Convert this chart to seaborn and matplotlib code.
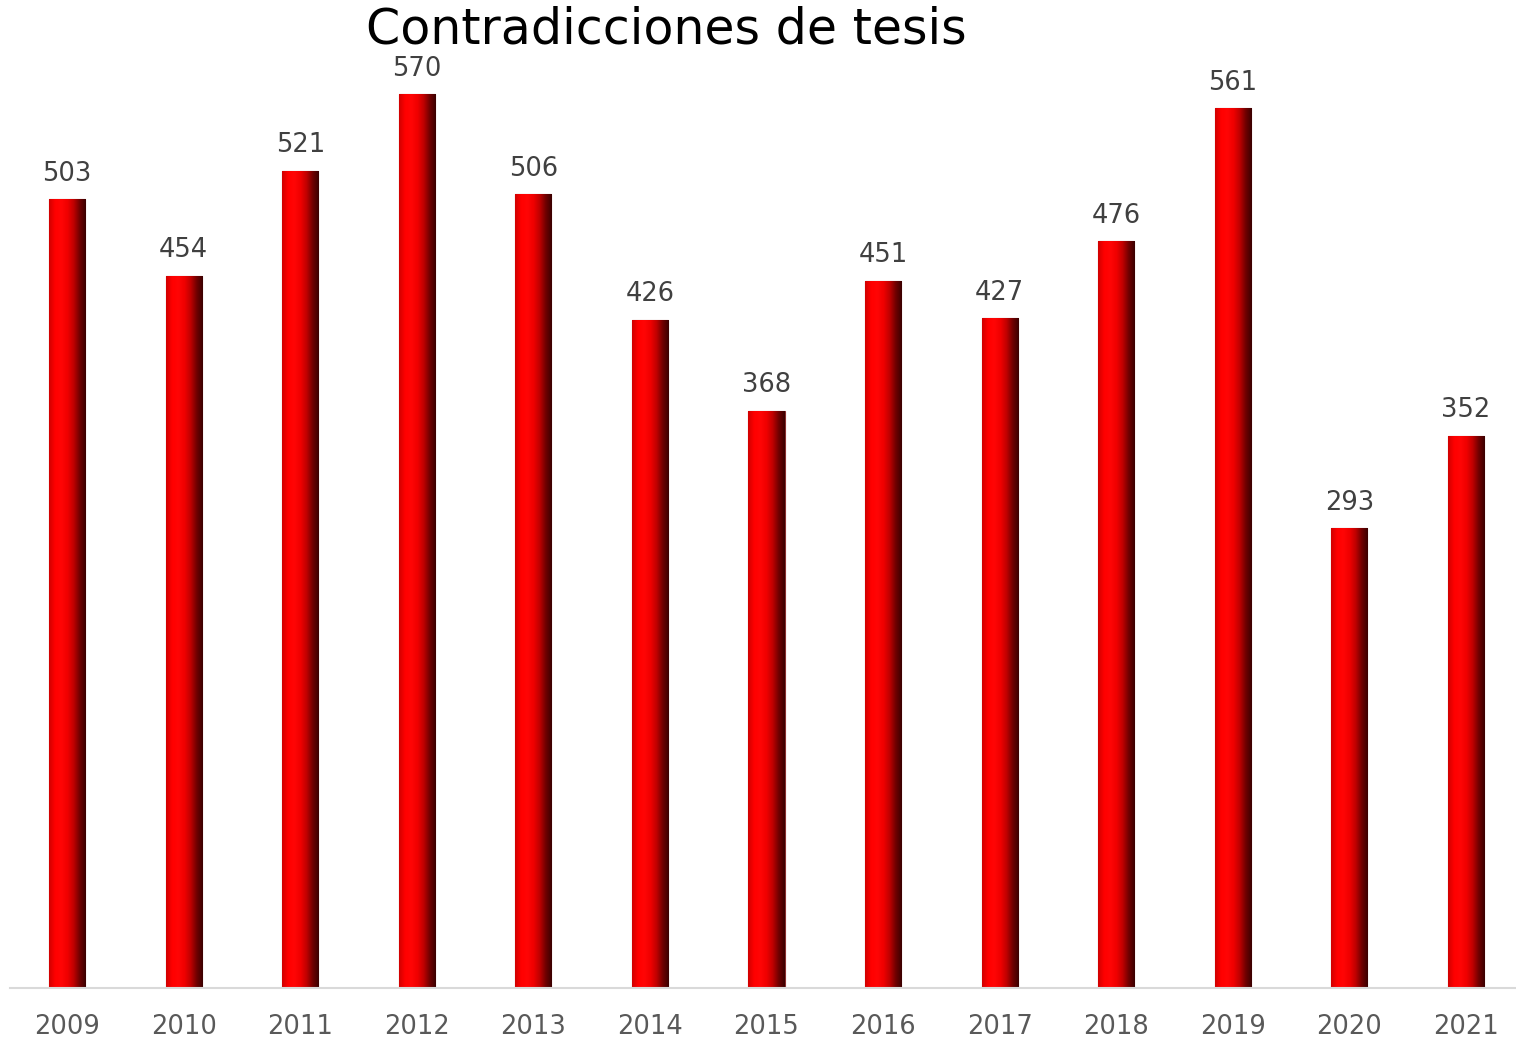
import numpy as np
import pandas as pd
import matplotlib.pyplot as plt
import seaborn as sns
from matplotlib.colors import LinearSegmentedColormap

sns.set_theme(style="white")
plt.rcParams['font.family'] = ['DejaVu Sans']

# data
years = ["2009", "2010", "2011", "2012", "2013", "2014", "2015",
         "2016", "2017", "2018", "2019", "2020", "2021"]
values = [503, 454, 521, 570, 506, 426, 368, 451, 427, 476, 561, 293, 352]

df = pd.DataFrame({"year": years, "value": values})

fig = plt.figure(figsize=(15.16, 10.38), dpi=100)
ax = fig.add_axes([10 / 1516, 50 / 1038, 1 - 10 / 1516, (988 - 60) / 1038])

sns.barplot(data=df, x="year", y="value", color="#ff0000", width=0.31,
            saturation=1, ax=ax, edgecolor="#8a3030", linewidth=0.8)

# shaded look on the bars
cmap = LinearSegmentedColormap.from_list(
    "bar3d", ["#d00000", "#ff0000", "#ff0505", "#f00000", "#c00000", "#700000", "#3a0000"])
grad = np.linspace(0, 1, 256).reshape(1, -1)
for p in ax.patches:
    x0, y0 = p.get_x(), p.get_y()
    w, h = p.get_width(), p.get_height()
    im = ax.imshow(grad, cmap=cmap, aspect="auto",
                   extent=[x0, x0 + w, y0, y0 + h], zorder=p.get_zorder() + 0.1)
    im.set_clip_path(p)

ax.bar_label(ax.containers[0], labels=[str(v) for v in values], padding=9,
             fontsize=18.5, color="#404040")

ax.set_xlim(-0.49, 12.43)
ax.set_ylim(0, (988 - 60) / (894 / 570))
ax.set_xlabel("")
ax.set_ylabel("")
ax.set_yticks([])
ax.tick_params(axis="x", labelsize=18.5, labelcolor="#595959", length=0, pad=19)
for side in ["top", "right", "left"]:
    ax.spines[side].set_visible(False)
ax.spines["bottom"].set_color("#d9d9d9")
ax.spines["bottom"].set_linewidth(1.5)

fig.text(666 / 1516, 1 - 30 / 1038, "Contradicciones de tesis", fontsize=35.3,
         color="black", ha="center", va="center")

fig.savefig("out.png", dpi=100)
